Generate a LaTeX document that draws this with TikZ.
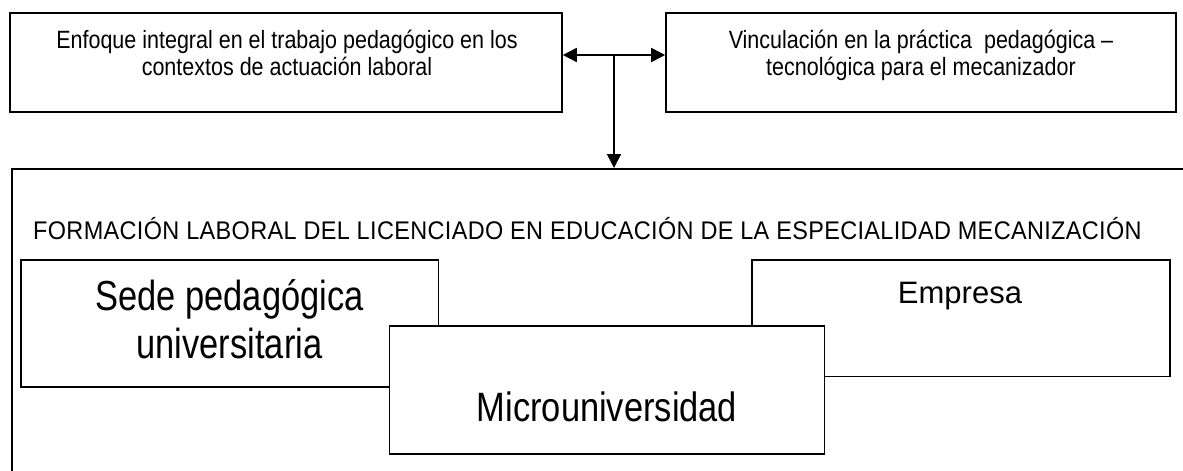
\documentclass[tikz,border=0pt]{standalone}
\usepackage{fontspec}
\newfontfamily\narrowfont{Liberation Sans}[FakeStretch=0.82]
\newfontfamily\midfont{Liberation Sans}[FakeStretch=0.86]
\newfontfamily\microfont{Liberation Sans}[FakeStretch=0.84]
\newfontfamily\titlefont{Liberation Sans}[FakeStretch=0.92, LetterSpace=1.4]
\newfontfamily\arialfont{Liberation Sans}
\usetikzlibrary{arrows.meta}
\tikzset{
  box/.style={draw, line width=1.6pt, fill=white, inner sep=0pt, rectangle},
  txt/.style={inner sep=0pt, anchor=base, text=black},
  smalltxt/.style={txt, font=\midfont\fontsize{25}{30}\selectfont},
  titletxt/.style={txt, font=\titlefont\fontsize{25.5}{30}\selectfont},
  bigtxt/.style={txt, font=\narrowfont\fontsize{42}{50}\selectfont},
  microtxt/.style={txt, font=\microfont\fontsize{41}{50}\selectfont},
  arialtxt/.style={txt, font=\arialfont\fontsize{31}{36}\selectfont},
  conn/.style={line width=1.6pt, -{Triangle[length=14pt,width=14pt]}},
}
\begin{document}
\begin{tikzpicture}[x=1pt, y=-1pt]
\useasboundingbox (0,0) rectangle (1183,471);
\clip (0,0) rectangle (1183,471);
% outer frame (extends beyond the picture)
\node[box, minimum width=1250pt, minimum height=400pt, anchor=north west] (frame) at (11,168) {};
\node[titletxt, anchor=base west] (title) at (33,239) {FORMACIÓN LABORAL DEL LICENCIADO EN EDUCACIÓN DE LA ESPECIALIDAD MECANIZACIÓN};
% top boxes
\node[box, minimum width=552pt, minimum height=99pt] (b1) at (286,62.2) {};
\node[smalltxt] (b1a) at (287,48.5) {Enfoque integral en el trabajo pedagógico en los};
\node[smalltxt] (b1b) at (287,75) {contextos de actuación laboral};
\node[box, minimum width=510pt, minimum height=99pt] (b2) at (921,62.2) {};
\node[smalltxt] (b2a) at (921,48.5) {Vinculación en la práctica \ pedagógica –};
\node[smalltxt] (b2b) at (921,75) {tecnológica para el mecanizador};
% connectors
\coordinate (j) at (614,55);
\draw[conn] (j) -- (b1.east |- j);
\draw[conn] (j) -- (b2.west |- j);
\draw[conn] (j) -- (frame.north -| j);
% inner boxes
\node[box, minimum width=417.6pt, minimum height=127pt] (sede) at (229.5,323.5) {};
\node[bigtxt] (sedea) at (229.5,310) {Sede pedagógica};
\node[bigtxt] (sedeb) at (229.5,358) {universitaria};
\node[box, minimum width=417.7pt, minimum height=116.7pt] (emp) at (961,318.3) {};
\node[arialtxt] (empt) at (960,303) {Empresa};
\node[box, minimum width=435pt, minimum height=128pt] (micro) at (606.8,390) {};
\node[microtxt] (microt) at (607,421) {Microuniversidad};
\end{tikzpicture}
\end{document}
